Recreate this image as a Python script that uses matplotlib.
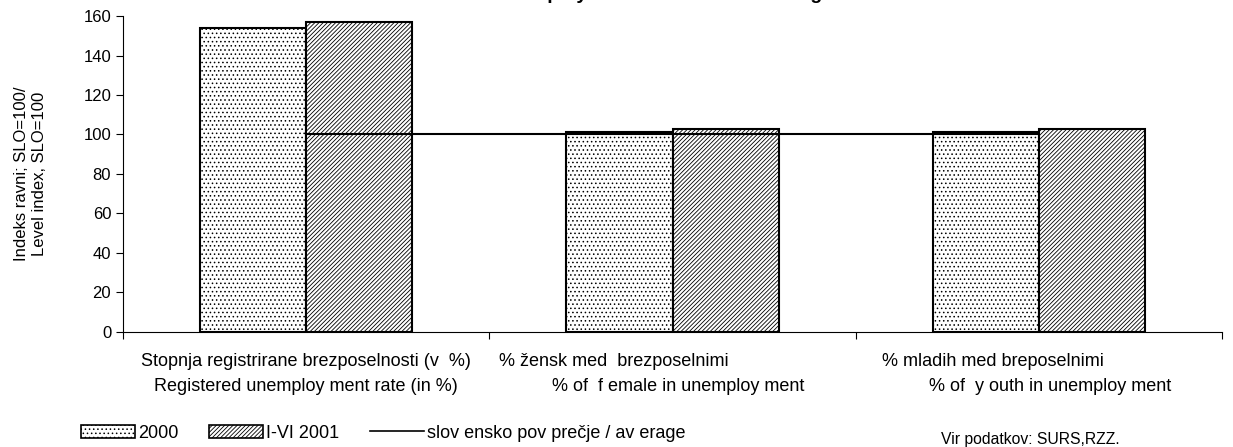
import numpy as np
import matplotlib
matplotlib.use('Agg')
import matplotlib.pyplot as plt
from matplotlib.patches import Patch
from matplotlib.lines import Line2D

plt.rcParams['font.family'] = ['Liberation Sans', 'DejaVu Sans']
plt.rcParams['hatch.linewidth'] = 0.6

# data
labels_si = ['Stopnja registrirane brezposelnosti (v  %)',
             '% žensk med  brezposelnimi',
             '% mladih med breposelnimi']
labels_en = ['Registered unemploy ment rate (in %)',
             '% of  f emale in unemploy ment',
             '% of  y outh in unemploy ment']
vals_2000 = [154, 101.5, 101.5]
vals_2001 = [157, 102.7, 102.7]
avg = [100, 100, 100]

x = np.arange(len(labels_si))
w = 0.29

fig = plt.figure(figsize=(12.33, 4.47), dpi=100)
ax = fig.add_axes([0.0998, 0.2573, 0.8914, 0.7069])

ax.bar(x - w / 2, vals_2000, w, facecolor='white', edgecolor='black',
       hatch='....', linewidth=1.5, zorder=2)
ax.bar(x + w / 2, vals_2001, w, facecolor='white', edgecolor='black',
       hatch='////////', linewidth=1.5, zorder=2)
ax.plot(x, avg, color='black', lw=1.5, zorder=3)

ax.set_xlim(-0.5, 2.5)
ax.set_ylim(0, 160)
ax.set_yticks(np.arange(0, 161, 20))
ax.set_xticks([-0.5, 0.5, 1.5, 2.5])
ax.set_xticklabels([])
ax.tick_params(axis='y', labelsize=12, length=5, width=0.8)
ax.tick_params(axis='x', length=5, width=0.8)
for s in ['top', 'right']:
    ax.spines[s].set_visible(False)
ax.spines['left'].set_linewidth(0.8)
ax.spines['bottom'].set_linewidth(0.8)

# category labels (two lines, slightly offset like the original)
off1 = [0.0, -0.16, -0.125]
off2 = [0.0, 0.015, 0.03]
for i in range(len(x)):
    ax.text(x[i] + off1[i], -0.094, labels_si[i], transform=ax.get_xaxis_transform(),
            ha='center', va='center', fontsize=13)
    ax.text(x[i] + off2[i], -0.173, labels_en[i], transform=ax.get_xaxis_transform(),
            ha='center', va='center', fontsize=13)

ax.set_ylabel('Indeks ravni; SLO=100/\nLevel index, SLO=100', fontsize=12,
              labelpad=26, linespacing=1.3)

# title sits mostly above the visible area (cut off in the original too)
fig.text(0.545, 1.003, 'Unemployment in the statistical region', ha='center',
         va='baseline', fontsize=14, fontweight='bold')

handles = [Patch(facecolor='white', edgecolor='black', hatch='....', linewidth=1.2),
           Patch(facecolor='white', edgecolor='black', hatch='////////', linewidth=1.2),
           Line2D([0], [0], color='black', lw=1.2)]
fig.legend(handles, ['2000', 'I-VI 2001', 'slov ensko pov prečje / av erage'],
           loc='center left', bbox_to_anchor=(0.0585, 0.031), ncol=3, frameon=False,
           fontsize=13, handlelength=3.0, handleheight=0.75, handletextpad=0.15,
           columnspacing=1.7, borderpad=0)

fig.text(0.763, 0.016, 'Vir podatkov: SURS,RZZ.', fontsize=11.3, ha='left', va='center')

fig.savefig('out.png', dpi=100)
